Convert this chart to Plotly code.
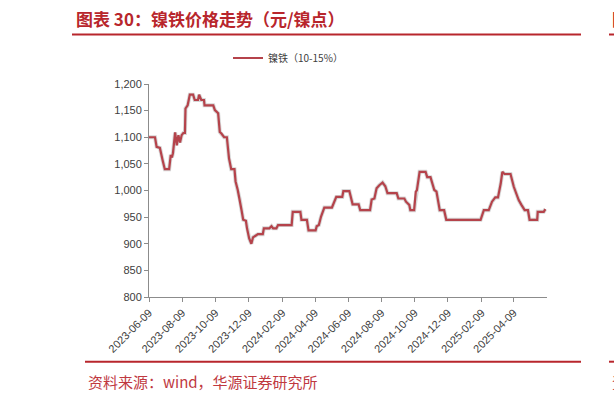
import plotly.graph_objects as go

# 镍铁（10-15%）价格，元/镍点，按拐点读取
dates = [
    "2023-06-09", "2023-06-20", "2023-06-23", "2023-06-29", "2023-07-04", "2023-07-08",
    "2023-07-16", "2023-07-19", "2023-07-21", "2023-07-23", "2023-07-27", "2023-07-30",
    "2023-08-02", "2023-08-05", "2023-08-08", "2023-08-11", "2023-08-14", "2023-08-15",
    "2023-08-19", "2023-08-23", "2023-08-29", "2023-09-01", "2023-09-07", "2023-09-09",
    "2023-09-13", "2023-09-18", "2023-09-19", "2023-10-05", "2023-10-08", "2023-10-14",
    "2023-10-17", "2023-10-20", "2023-10-25", "2023-10-30", "2023-11-03", "2023-11-07",
    "2023-11-13", "2023-11-15", "2023-11-19", "2023-11-23", "2023-11-26", "2023-11-29",
    "2023-12-04", "2023-12-06", "2023-12-10", "2023-12-14", "2023-12-17", "2023-12-23",
    "2023-12-26", "2024-01-04", "2024-01-06", "2024-01-16", "2024-01-20", "2024-01-23",
    "2024-01-29", "2024-02-01", "2024-02-26", "2024-02-28", "2024-03-13", "2024-03-15",
    "2024-03-25", "2024-03-28", "2024-04-10", "2024-04-12", "2024-04-16", "2024-04-20",
    "2024-04-26", "2024-05-10", "2024-05-13", "2024-05-18", "2024-05-29", "2024-05-31",
    "2024-06-11", "2024-06-14", "2024-06-17", "2024-06-28", "2024-07-01", "2024-07-19",
    "2024-07-22", "2024-07-27", "2024-07-31", "2024-08-05", "2024-08-11", "2024-08-16",
    "2024-08-20", "2024-09-06", "2024-09-09", "2024-09-20", "2024-09-23", "2024-09-29",
    "2024-10-01", "2024-10-08", "2024-10-11", "2024-10-13", "2024-10-18", "2024-10-29",
    "2024-11-01", "2024-11-07", "2024-11-14", "2024-11-18", "2024-11-24", "2024-12-02",
    "2024-12-06", "2025-02-07", "2025-02-10", "2025-02-13", "2025-02-22", "2025-02-28",
    "2025-03-06", "2025-03-11", "2025-03-16", "2025-03-19", "2025-03-23", "2025-04-03",
    "2025-04-09", "2025-04-12", "2025-04-18", "2025-04-23", "2025-04-29", "2025-05-05",
    "2025-05-08", "2025-05-22", "2025-05-23", "2025-06-03", "2025-06-06",
]
prices = [
    1100, 1100, 1082, 1080, 1057, 1040,
    1040, 1067, 1062, 1070, 1109, 1085,
    1104, 1090, 1104, 1108, 1108, 1154,
    1160, 1180, 1180, 1170, 1170, 1180,
    1170, 1170, 1160, 1160, 1151, 1145,
    1110, 1107, 1100, 1100, 1060, 1040,
    1040, 1017, 1001, 982, 963, 945,
    943, 929, 910, 900, 912, 916,
    918, 918, 929, 929, 933, 929,
    929, 935, 935, 960, 960, 945,
    945, 925, 925, 933, 935, 951,
    968, 968, 977, 988, 988, 999,
    999, 983, 974, 974, 963, 963,
    983, 985, 1004, 1010, 1015, 1008,
    995, 995, 985, 985, 979, 973,
    963, 963, 998, 1000, 1035, 1035,
    1025, 1025, 1001, 998, 963, 963,
    945, 945, 954, 963, 963, 979,
    987, 987, 1013, 1035, 1031, 1031,
    1007, 998, 982, 973, 963, 963,
    945, 945, 960, 960, 965,
]

tick_dates = ["2023-06-09", "2023-08-09", "2023-10-09", "2023-12-09", "2024-02-09",
              "2024-04-09", "2024-06-09", "2024-08-09", "2024-10-09", "2024-12-09",
              "2025-02-09", "2025-04-09"]

series_name = "镍铁（10-15%）"
title_text = "图表 30：镍铁价格走势（元/镍点）"
source_text = "资料来源：wind，华源证券研究所"

RED = "#b8262c"
LINE = "#b5434b"
W, H = 614, 400
L, R, T, B = 149, 547, 84, 297


def px_x(x):
    return (x - L) / (R - L)


def px_y(y):
    return (B - y) / (B - T)


fig = go.Figure()
# faint grey halo under the line (Excel shadow look)
fig.add_trace(go.Scatter(x=dates, y=prices, mode="lines", showlegend=False,
                         hoverinfo="skip",
                         line=dict(color="rgba(140,140,140,0.35)", width=4)))
fig.add_trace(go.Scatter(x=dates, y=prices, mode="lines", name=series_name,
                         line=dict(color=LINE, width=2.2)))

axis_font = dict(family="Liberation Sans, Arial", size=11, color="#404040")

fig.update_layout(
    width=W, height=H,
    margin=dict(l=L, r=W - R, t=T, b=H - B),
    plot_bgcolor="white", paper_bgcolor="white",
    showlegend=True,
    legend=dict(orientation="h", x=px_x(228), y=px_y(58), xanchor="left",
                yanchor="middle", font=dict(family="Noto Sans CJK SC", size=10,
                                            color="#404040"),
                itemwidth=30, bgcolor="rgba(0,0,0,0)"),
    xaxis=dict(type="date", range=["2023-06-09", "2025-06-09"],
               tickvals=tick_dates, ticktext=tick_dates, tickangle=-45,
               showgrid=False, zeroline=False, showline=True,
               linecolor="#8c8c8c", linewidth=1, ticks="outside",
               tickcolor="#8c8c8c", ticklen=4, tickfont=axis_font),
    yaxis=dict(range=[800, 1200], dtick=50, tickformat=",", showgrid=False,
               zeroline=False, showline=True, linecolor="#8c8c8c", linewidth=1,
               ticks="outside", tickcolor="#8c8c8c", ticklen=4,
               tickfont=axis_font),
)

# header / footer rules
for x0, x1, y in [(72, 581, 34.5), (609, 616, 34.5), (85, 581, 361.7), (609, 616, 361.7)]:
    fig.add_shape(type="line", xref="paper", yref="paper",
                  x0=px_x(x0), x1=px_x(x1), y0=px_y(y), y1=px_y(y),
                  line=dict(color=RED, width=2))

fig.add_annotation(text="<b>" + title_text + "</b>", xref="paper", yref="paper",
                   x=px_x(74), y=px_y(18.5), xanchor="left", yanchor="middle",
                   showarrow=False,
                   font=dict(family="Noto Sans CJK SC", size=17, color=RED))
fig.add_annotation(text="<b>图</b>", xref="paper", yref="paper",
                   x=px_x(610), y=px_y(18.5), xanchor="left", yanchor="middle",
                   showarrow=False,
                   font=dict(family="Noto Sans CJK SC", size=17, color=RED))
fig.add_annotation(text=source_text, xref="paper", yref="paper",
                   x=px_x(86), y=px_y(381), xanchor="left", yanchor="middle",
                   showarrow=False,
                   font=dict(family="Noto Sans CJK SC", size=15, color="#c0393f"))
fig.add_annotation(text="资", xref="paper", yref="paper",
                   x=px_x(610), y=px_y(381), xanchor="left", yanchor="middle",
                   showarrow=False,
                   font=dict(family="Noto Sans CJK SC", size=15, color="#c0393f"))

fig.write_html("out.html", config={"displayModeBar": False},
               post_script="document.body.style.margin='0';"
                           "document.body.style.overflow='hidden';")
